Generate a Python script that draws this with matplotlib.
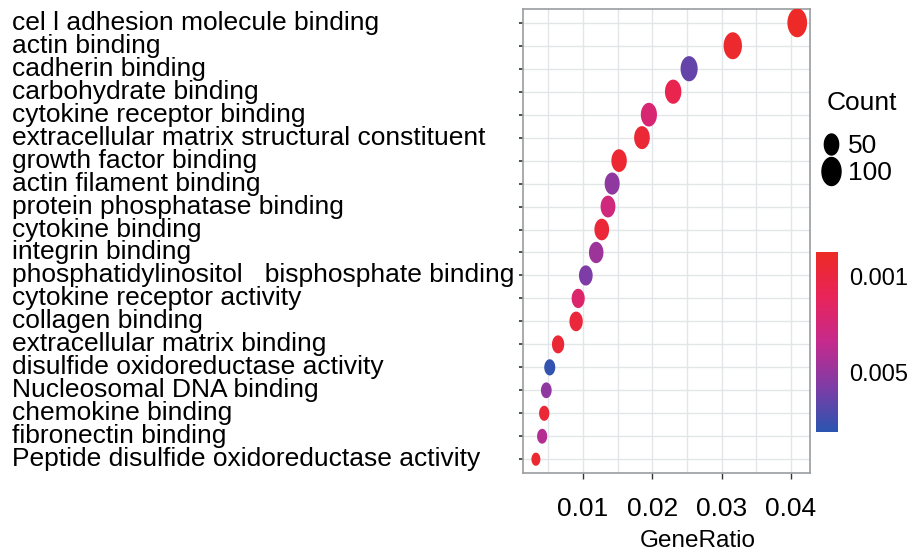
import numpy as np
import matplotlib
matplotlib.use('Agg')
from matplotlib import pyplot as plt
from matplotlib.path import Path
from matplotlib.lines import Line2D
from matplotlib.colors import LinearSegmentedColormap, Normalize
from matplotlib.transforms import blended_transform_factory
import matplotlib.cm as mcm

plt.rcParams['font.family'] = ['Liberation Sans', 'DejaVu Sans']

# GO terms, top to bottom as drawn
TERMS = [
    'cel l adhesion molecule binding',
    'actin binding',
    'cadherin binding',
    'carbohydrate binding',
    'cytokine receptor binding',
    'extracellular matrix structural constituent',
    'growth factor binding',
    'actin filament binding',
    'protein phosphatase binding',
    'cytokine binding',
    'integrin binding',
    'phosphatidylinositol   bisphosphate binding',
    'cytokine receptor activity',
    'collagen binding',
    'extracellular matrix binding',
    'disulfide oxidoreductase activity',
    'Nucleosomal DNA binding',
    'chemokine binding',
    'fibronectin binding',
    'Peptide disulfide oxidoreductase activity',
]

GENE_RATIO = [0.0409, 0.0316, 0.0253, 0.0230, 0.0195, 0.0185, 0.0152,
              0.0142, 0.0136, 0.0127, 0.0119, 0.0104, 0.0093, 0.0090,
              0.0064, 0.0052, 0.0047, 0.0044, 0.0041, 0.0032]

COUNT = [108, 92, 78, 71, 68, 63, 61, 57, 55, 54,
         52, 45, 40, 42, 33, 24, 22, 19, 18, 11]

P_ADJUST = [0.0001, 0.0003, 0.0062, 0.0015, 0.0028, 0.0006, 0.0005,
            0.0052, 0.0032, 0.0007, 0.0048, 0.0056, 0.0025, 0.0008,
            0.0006, 0.0073, 0.0052, 0.0007, 0.0042, 0.0004]

X_TICKS = [0.01, 0.02, 0.03, 0.04]
CBAR_TICKS = [0.001, 0.005]
SIZE_BREAKS = [50, 100]

W, H = 911, 556
FS = 19

# red -> magenta -> purple -> blue, like ggplot low='red', high='blue'
cmap = LinearSegmentedColormap.from_list(
    'padj', [(0.0, '#ED2A24'), (0.25, '#E8245A'), (0.5, '#C52A8C'),
             (0.75, '#7E3CA6'), (1.0, '#2A55B0')])
norm = Normalize(vmin=0.0, vmax=0.0075)

# dots look like tall ellipses in the original
t = np.linspace(0, 2 * np.pi, 60)
ellipse = Path(np.column_stack([0.68 * np.cos(t), np.sin(t)]), closed=True)


def size_of(c):
    # area linear in count (pt^2), height is the marker size
    return 50.8 + 3.556 * np.asarray(c, dtype=float)


fig = plt.figure(figsize=(W / 100, H / 100), dpi=100)
ax = fig.add_axes([523 / W, 1 - 473 / H, 287 / W, 464 / H])

ypos = np.arange(1, len(TERMS) + 1)
ax.scatter(GENE_RATIO, ypos, s=size_of(COUNT), c=P_ADJUST, cmap=cmap,
           norm=norm, marker=ellipse, linewidths=0, zorder=3)

ax.set_xlim(0.00134, 0.04274)
ax.set_ylim(20.6, 0.4)
ax.set_xticks(X_TICKS)
ax.set_xticklabels(['0.01', '0.02', '0.03', '0.04'])
ax.set_xticks(np.arange(0.005, 0.045, 0.005), minor=True)
ax.set_yticks(ypos)
ax.set_yticklabels([])
ax.grid(True, which='both', color='#e3e6e8', lw=1.0, zorder=0)
ax.tick_params(axis='x', which='major', length=4, width=1, color='#333333',
               labelsize=FS, pad=13)
ax.tick_params(axis='x', which='minor', length=0)
ax.tick_params(axis='y', length=3, width=1.2, color='#333333')
for sp in ax.spines.values():
    sp.set_color('#9a9d9f')
    sp.set_linewidth(1.2)
ax.set_xlabel('GeneRatio', fontsize=17.5)
ax.xaxis.set_label_coords((698 - 523) / 287, -0.123)

trans = blended_transform_factory(fig.transFigure, ax.transData)
for y, term in zip(ypos, TERMS):
    ax.text(12 / W, y, term, transform=trans, ha='left', va='center',
            fontsize=FS, clip_on=False)

# size legend
fig.text(827 / W, 1 - 103 / H, 'Count', ha='left', va='center', fontsize=FS)
handles = [Line2D([], [], ls='none', marker=ellipse, color='black',
                  markersize=np.sqrt(size_of(b))) for b in SIZE_BREAKS]
fig.legend(handles, [str(b) for b in SIZE_BREAKS],
           loc='upper left', bbox_to_anchor=(818 / W, 1 - 134 / H),
           frameon=False, fontsize=FS, handletextpad=0.15,
           labelspacing=0.12, borderpad=0, borderaxespad=0,
           handlelength=1.0)

# colour bar, small p.adjust on top
cax = fig.add_axes([816 / W, 1 - 432 / H, 22 / W, 180 / H])
cb = fig.colorbar(mcm.ScalarMappable(norm=norm, cmap=cmap), cax=cax)
cax.invert_yaxis()
cb.set_ticks(CBAR_TICKS)
cb.set_ticklabels(['0.001', '0.005'])
cb.outline.set_visible(False)
cax.tick_params(length=0, labelsize=17, pad=8)

fig.savefig('out.png', dpi=100)
